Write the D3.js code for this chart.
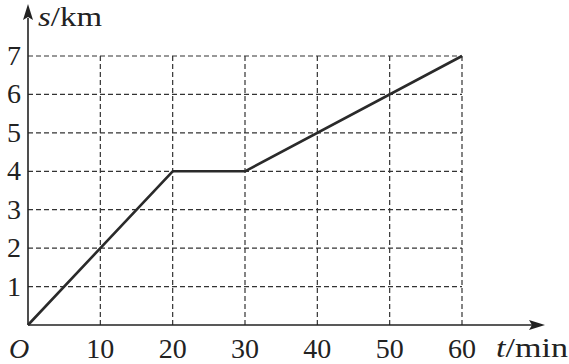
<!doctype html>
<html>
<head>
<meta charset="utf-8">
<script src="https://d3js.org/d3.v7.min.js"></script>
<style>
body { margin: 0; background: #fff; }
text { font-family: "Times New Roman", Times, "Liberation Serif", serif; fill: #222; }
</style>
</head>
<body>
<svg class="chart"></svg>
<script>
var width = 569, height = 364;

// chart data
var times = [0, 20, 30, 60];
var distances = [0, 4, 4, 7];
var xTicks = [10, 20, 30, 40, 50, 60];
var yTicks = [1, 2, 3, 4, 5, 6, 7];

var x = d3.scaleLinear().domain([0, 60]).range([28, 462]);
var y = d3.scaleLinear().domain([0, 7]).range([325, 56]);

var svg = d3.select(".chart")
    .attr("width", width)
    .attr("height", height);

svg.append("rect").attr("width", width).attr("height", height).attr("fill", "#fff");

// dashed grid
svg.append("g").selectAll("line")
    .data(xTicks).enter().append("line")
    .attr("x1", d => x(d)).attr("x2", d => x(d))
    .attr("y1", y(0)).attr("y2", y(7))
    .attr("stroke", "#333").attr("stroke-width", 1.2)
    .attr("stroke-dasharray", "5,3");

svg.append("g").selectAll("line")
    .data(yTicks).enter().append("line")
    .attr("x1", x(0)).attr("x2", x(60))
    .attr("y1", d => y(d)).attr("y2", d => y(d))
    .attr("stroke", "#333").attr("stroke-width", 1.2)
    .attr("stroke-dasharray", "5,3");

// axes with arrows
svg.append("line")
    .attr("x1", x(0)).attr("x2", 532)
    .attr("y1", y(0)).attr("y2", y(0))
    .attr("stroke", "#222").attr("stroke-width", 1.6);
svg.append("path")
    .attr("d", `M545 ${y(0)} L529 ${y(0) - 5} L532 ${y(0)} L529 ${y(0) + 5} Z`)
    .attr("fill", "#222");

svg.append("line")
    .attr("x1", x(0)).attr("x2", x(0))
    .attr("y1", y(0)).attr("y2", 18)
    .attr("stroke", "#222").attr("stroke-width", 1.6);
svg.append("path")
    .attr("d", `M${x(0)} 4 L${x(0) - 5} 20 L${x(0)} 17 L${x(0) + 5} 20 Z`)
    .attr("fill", "#222");

// tick labels
svg.append("g").selectAll("text")
    .data(xTicks).enter().append("text")
    .attr("x", d => x(d)).attr("y", 358)
    .attr("text-anchor", "middle")
    .style("font-size", "28px")
    .text(d => d);

svg.append("g").selectAll("text")
    .data(yTicks).enter().append("text")
    .attr("x", 21).attr("y", d => y(d) + 9)
    .attr("text-anchor", "end")
    .style("font-size", "28px")
    .text(d => d);

svg.append("text")
    .attr("x", 9).attr("y", 358)
    .style("font-size", "28px").style("font-style", "italic")
    .text("O");

// axis titles
var yTitle = svg.append("text")
    .attr("x", 38).attr("y", 26)
    .attr("textLength", 64).attr("lengthAdjust", "spacingAndGlyphs")
    .style("font-size", "27px");
yTitle.append("tspan").style("font-style", "italic").text("s");
yTitle.append("tspan").text("/km");

var xTitle = svg.append("text")
    .attr("x", 496).attr("y", 357)
    .attr("textLength", 72).attr("lengthAdjust", "spacingAndGlyphs")
    .style("font-size", "27px");
xTitle.append("tspan").style("font-style", "italic").text("t");
xTitle.append("tspan").text("/min");

// distance-time line
var line = d3.line()
    .x((d, i) => x(times[i]))
    .y(d => y(d));

svg.append("path")
    .datum(distances)
    .attr("d", line)
    .attr("fill", "none")
    .attr("stroke", "#2a2a2a")
    .attr("stroke-width", 2.6)
    .attr("stroke-linejoin", "round");
</script>
</body>
</html>
